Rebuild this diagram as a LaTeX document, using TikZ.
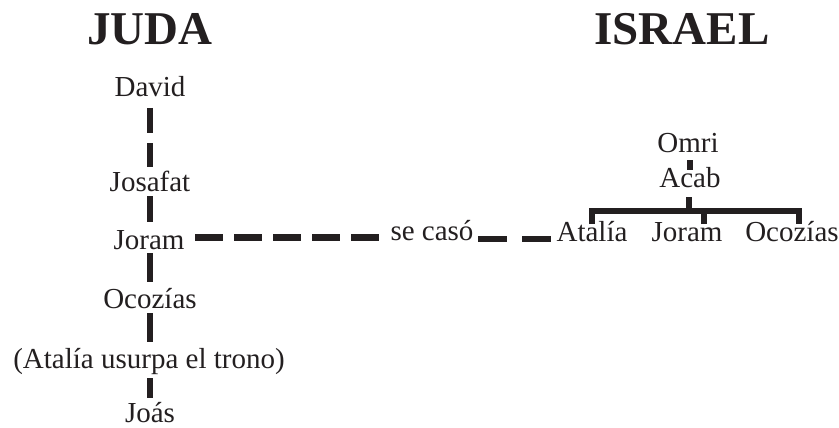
\documentclass[tikz,border=0pt]{standalone}
\usepackage{fontspec}
\setmainfont{Liberation Serif}
\usetikzlibrary{calc}
\definecolor{ink}{HTML}{231F20}
\tikzset{
  txt/.style={anchor=base, inner sep=0pt, text=ink, font=\fontsize{29}{34}\selectfont},
  ttl/.style={anchor=base, inner sep=0pt, text=ink, font=\fontsize{47}{56}\selectfont\bfseries},
  vline/.style={draw=ink, line width=6.5pt},
  hline/.style={draw=ink, line width=7pt},
  tline/.style={draw=ink, line width=5.5pt, line join=miter},
}
\begin{document}
\begin{tikzpicture}[x=1pt,y=-1pt]
\useasboundingbox (0,0) rectangle (839,428);
% titles
\node[ttl] (juda) at (150,45) {JUDA};
\node[ttl] (israel) at (682,45) {ISRAEL};
% Juda line
\node[txt] (david) at (150,97) {David};
\node[txt] (josafat) at (150,191) {Josafat};
\node[txt] (joramJ) at (149,249) {Joram};
\node[txt] (ocoziasJ) at (150,308) {Ocozías};
\node[txt] (usurpa) at (149,368) {(Atalía usurpa el trono)};
\node[txt] (joas) at (150,422) {Joás};
% Israel line
\node[txt] (omri) at (688,152) {Omri};
\node[txt] (acab) at (690,187) {Acab};
\node[txt] (ataliaI) at (592,241) {Atalía};
\node[txt] (joramI) at (687,241) {Joram};
\node[txt] (ocoziasI) at (792,241) {Ocozías};
\node[txt] (secaso) at (432,240) {se casó};
% vertical connectors (Juda)
\draw[vline, dash pattern=on 25pt off 10pt] ($(david.base)+(0,11)$) -- ($(josafat.base)+(0,-24)$);
\draw[vline] ($(josafat.base)+(0,5)$) -- ($(joramJ.base)+(1,-27)$);
\draw[vline] ($(joramJ.base)+(1,4)$) -- ($(ocoziasJ.base)+(0,-26)$);
\draw[vline] ($(ocoziasJ.base)+(0,5)$) -- ($(usurpa.base)+(1,-26)$);
\draw[vline] ($(usurpa.base)+(1,10)$) -- ($(joas.base)+(0,-24)$);
% marriage connector
\draw[hline, dash pattern=on 28pt off 11pt] ($(joramJ.base)+(46,-12)$) -- ($(secaso.base)+(-53,-3)$);
\draw[draw=ink, line width=5.5pt, dash pattern=on 29pt off 15pt] ($(secaso.base)+(46,-1)$) -- ($(ataliaI.base)+(-40,-2)$);
% Israel tree
\draw[tline] ($(omri.base)+(2,8)$) -- ($(omri.base)+(2,18)$);
\draw[tline] ($(acab.base)+(-1,10)$) -- ($(acab.base)+(-1,24)$);
\draw[tline] ($(ataliaI.base)+(0,-17)$) -- ($(ataliaI.base)+(0,-30)$) -- ($(ocoziasI.base)+(7,-30)$) -- ($(ocoziasI.base)+(7,-17)$);
\draw[tline] ($(joramI.base)+(17,-17)$) -- ($(joramI.base)+(17,-30)$);
\end{tikzpicture}
\end{document}
